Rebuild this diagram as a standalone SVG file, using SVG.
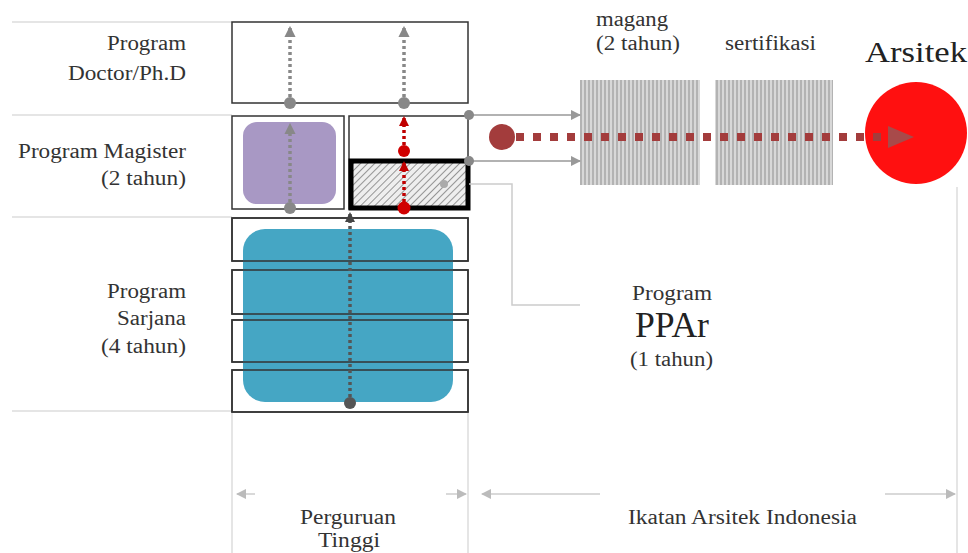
<svg xmlns="http://www.w3.org/2000/svg" width="968" height="553" viewBox="0 0 968 553">
<style>
text{font-family:'Liberation Serif','DejaVu Serif','Times New Roman',serif;fill:#333;font-size:20px}
.box{fill:#fff;stroke:#333;stroke-width:1.5}
.sep{stroke:#ddd;stroke-width:1.5;fill:none}
.gdash{stroke:#888;stroke-width:3.5;stroke-dasharray:3 3;fill:none}
.ddash{stroke:#555;stroke-width:3.5;stroke-dasharray:3 3;fill:none}
.rdash{stroke:#c00000;stroke-width:3.5;stroke-dasharray:3 3;fill:none}
.gline{stroke:#999;stroke-width:1.5;fill:none}
.lline{stroke:#ccc;stroke-width:1.5;fill:none}
</style>
<defs>
<marker id="ag" viewBox="0 0 10 10" refX="9" refY="5" markerWidth="3.2" markerHeight="3.2" orient="auto"><path d="M0,0L10,5L0,10z" fill="#888"/></marker>
<marker id="ad" viewBox="0 0 10 10" refX="9" refY="5" markerWidth="3" markerHeight="3" orient="auto"><path d="M0,0L10,5L0,10z" fill="#444"/></marker>
<marker id="ar" viewBox="0 0 10 10" refX="9" refY="5" markerWidth="3" markerHeight="3" orient="auto"><path d="M0,0L10,5L0,10z" fill="#c00000"/></marker>
<marker id="at" viewBox="0 0 10 10" refX="9" refY="5" markerWidth="7" markerHeight="7" orient="auto"><path d="M0,0L10,5L0,10z" fill="#999"/></marker>
<marker id="al" viewBox="0 0 10 10" refX="9" refY="5" markerWidth="7" markerHeight="7" orient="auto"><path d="M0,0L10,5L0,10z" fill="#bbb"/></marker>
<pattern id="hatch" width="5" height="5" patternUnits="userSpaceOnUse" patternTransform="rotate(45)"><rect width="5" height="5" fill="#eee"/><line x1="0" y1="0" x2="0" y2="5" stroke="#777" stroke-width="1.5"/></pattern>
<pattern id="vstripe" width="4" height="10" patternUnits="userSpaceOnUse"><rect width="4" height="10" fill="#d8d8d8"/><line x1="1" y1="0" x2="1" y2="10" stroke="#9a9a9a" stroke-width="1.2"/></pattern>
</defs>

<g id="separators">
<line class="sep" x1="12" y1="22" x2="232" y2="22"/>
<line class="sep" x1="12" y1="115" x2="232" y2="115"/>
<line class="sep" x1="12" y1="217" x2="232" y2="217"/>
<line class="sep" x1="12" y1="411" x2="232" y2="411"/>
<line class="sep" x1="232" y1="413" x2="232" y2="553"/>
<line class="sep" x1="468" y1="413" x2="468" y2="553"/>
<line class="sep" x1="957" y1="187" x2="957" y2="553"/>
</g>

<g id="labels-left">
<text x="107" y="50" textLength="79" lengthAdjust="spacingAndGlyphs">Program</text>
<text x="68" y="80" textLength="118" lengthAdjust="spacingAndGlyphs">Doctor/Ph.D</text>
<text x="18" y="158" textLength="168" lengthAdjust="spacingAndGlyphs">Program Magister</text>
<text x="101" y="185" textLength="85" lengthAdjust="spacingAndGlyphs">(2 tahun)</text>
<text x="107" y="298" textLength="79" lengthAdjust="spacingAndGlyphs">Program</text>
<text x="117" y="325" textLength="69" lengthAdjust="spacingAndGlyphs">Sarjana</text>
<text x="101" y="353" textLength="85" lengthAdjust="spacingAndGlyphs">(4 tahun)</text>
</g>

<g id="doctor"><rect class="box" x="232" y="22" width="236" height="81"/></g>
<g id="magister-left">
<rect class="box" x="232" y="116" width="112" height="93"/>
<rect x="243" y="122" width="93" height="82" rx="14" fill="#a898c4"/>
</g>
<g id="magister-right">
<rect class="box" x="349" y="116" width="119" height="93"/>
<rect x="351" y="161" width="117" height="47" fill="url(#hatch)" stroke="#000" stroke-width="5"/>
</g>
<g id="sarjana">
<rect class="box" x="232" y="218" width="236" height="43"/>
<rect class="box" x="232" y="270" width="236" height="44"/>
<rect class="box" x="232" y="320" width="236" height="42"/>
<rect class="box" x="232" y="370" width="236" height="42"/>
<rect x="243" y="229" width="210" height="173" rx="22" fill="#45a6c4"/>
<rect x="232" y="218" width="236" height="43" fill="none" stroke="#333" stroke-width="1.5"/>
<rect x="232" y="270" width="236" height="44" fill="none" stroke="#333" stroke-width="1.5"/>
<rect x="232" y="320" width="236" height="42" fill="none" stroke="#333" stroke-width="1.5"/>
<rect x="232" y="370" width="236" height="42" fill="none" stroke="#333" stroke-width="1.5"/>
</g>

<g id="magang"><rect x="580" y="80" width="120" height="105" fill="url(#vstripe)"/>
<text x="596" y="26" textLength="72" lengthAdjust="spacingAndGlyphs">magang</text>
<text x="596" y="50" textLength="84" lengthAdjust="spacingAndGlyphs">(2 tahun)</text></g>
<g id="sertifikasi"><rect x="715" y="80" width="118" height="105" fill="url(#vstripe)"/>
<text x="725" y="50" textLength="91" lengthAdjust="spacingAndGlyphs">sertifikasi</text></g>
<g id="arsitek"><circle cx="916" cy="133" r="51" fill="#ff1010"/>
<text x="865" y="62" textLength="102" lengthAdjust="spacingAndGlyphs" style="font-size:29px;fill:#222">Arsitek</text></g>
<g id="ppar">
<text x="632" y="300" textLength="80" lengthAdjust="spacingAndGlyphs">Program</text>
<text x="635" y="337" textLength="74" lengthAdjust="spacingAndGlyphs" style="font-size:35px;fill:#222">PPAr</text>
<text x="630" y="366" textLength="83" lengthAdjust="spacingAndGlyphs">(1 tahun)</text>
</g>
<g id="bottom-labels">
<text x="300" y="524" textLength="96" lengthAdjust="spacingAndGlyphs">Perguruan</text>
<text x="318" y="547" textLength="62" lengthAdjust="spacingAndGlyphs">Tinggi</text>
<text x="628" y="524" textLength="229" lengthAdjust="spacingAndGlyphs">Ikatan Arsitek Indonesia</text>
</g>

<g id="connectors">
<path class="gdash" d="M290,103V27" marker-end="url(#ag)"/>
<path class="gdash" d="M404,103V27" marker-end="url(#ag)"/>
<circle cx="290" cy="103" r="6" fill="#888"/>
<circle cx="404" cy="103" r="6" fill="#888"/>
<path class="gdash" d="M290,208V124" marker-end="url(#ag)"/>
<circle cx="290" cy="208" r="6" fill="#888"/>
<path class="rdash" d="M404,208V162" marker-end="url(#ar)"/>
<path class="rdash" d="M404,151V117" marker-end="url(#ar)"/>
<circle cx="404" cy="208" r="6.5" fill="#d00000"/>
<circle cx="404" cy="151" r="6" fill="#d00000"/>
<path class="ddash" d="M350,403V213" marker-end="url(#ad)"/>
<circle cx="350" cy="403" r="6" fill="#555"/>
<path class="gline" d="M469,115H580" marker-end="url(#at)"/>
<path class="gline" d="M469,161H580" marker-end="url(#at)"/>
<circle cx="469" cy="115" r="5" fill="#888"/>
<circle cx="469" cy="161" r="5" fill="#888"/>
<path class="lline" d="M469,184H512V305H580"/>
<circle cx="444" cy="184" r="4" fill="#aaa"/>
<path d="M516,137H885" stroke="#a33c3c" stroke-width="8" stroke-dasharray="8 9" fill="none"/>
<path d="M888,126L914,137L888,148z" fill="#a84a4a"/>
<circle cx="502" cy="137" r="13" fill="#a33c3c"/>
<path class="lline" d="M255,494H237" marker-end="url(#al)"/>
<path class="lline" d="M446,494H466" marker-end="url(#al)"/>
<path class="lline" d="M600,494H482" marker-end="url(#al)"/>
<path class="lline" d="M885,494H955" marker-end="url(#al)"/>
</g>
</svg>
